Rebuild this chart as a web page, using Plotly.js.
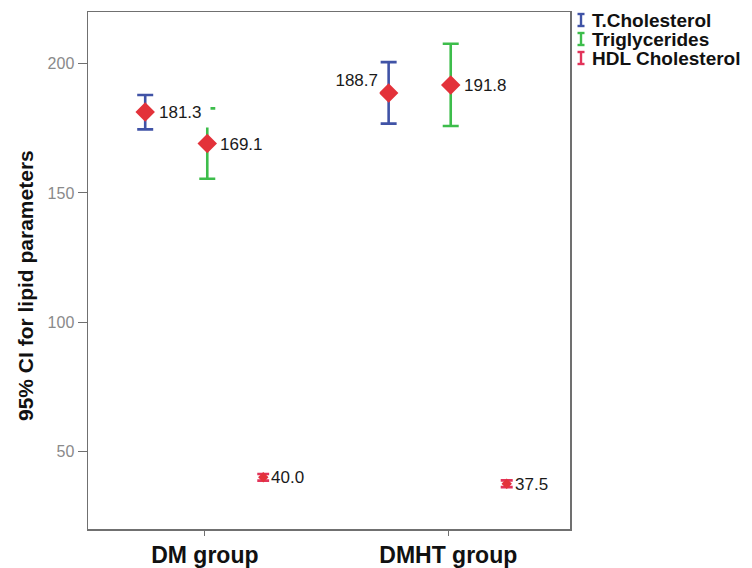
<!DOCTYPE html>
<html>
<head>
<meta charset="utf-8">
<script src="https://cdn.plot.ly/plotly-3.0.1.min.js"></script>
<style>
  html, body { margin: 0; padding: 0; background: #ffffff; }
  #chart { width: 752px; height: 568px; }
</style>
</head>
<body>
<div id="chart"></div>
<script>
// ---- data ----
const groups = ['DM group', 'DMHT group'];
const seriesNames = ['T.Cholesterol', 'Triglycerides', 'HDL Cholesterol'];
const tcMean  = [181.3, 188.7];
const tcLow   = [174.6, 176.8];
const tcHigh  = [187.9, 200.6];
const tgMean  = [169.1, 191.8];
const tgLow   = [155.5, 175.9];
const tgHigh  = [182.7, 207.7];
const hdlMean = [40.0, 37.5];
const hdlLow  = [38.7, 36.2];
const hdlHigh = [41.3, 38.8];
const yTicks  = [50, 100, 150, 200];

// ---- styling ----
const FONT = 'Arial, "Liberation Sans", sans-serif';
const seriesColors = ['#4053a6', '#3dbd4b', '#e2345a'];
const markerColor = '#e3323a';
const offsets = [-0.245, 0.01, 0.24];
const means = [tcMean, tgMean, hdlMean];
const lows = [tcLow, tgLow, hdlLow];
const highs = [tcHigh, tgHigh, hdlHigh];
const markerSizes = [15, 15, 8];
const capWidths = [8, 8, 6];
const labelShift = [12, 11, 6];

const traces = seriesNames.map((name, s) => ({
  type: 'scatter',
  mode: 'markers',
  name: name,
  x: groups.map((g, i) => i + offsets[s]),
  y: means[s],
  marker: { symbol: 'diamond', size: markerSizes[s], color: markerColor, line: { width: 0 } },
  error_y: {
    type: 'data', symmetric: false,
    array: means[s].map((m, i) => highs[s][i] - m),
    arrayminus: means[s].map((m, i) => m - lows[s][i]),
    color: seriesColors[s], thickness: 2.6, width: capWidths[s]
  },
  showlegend: false,
  hoverinfo: 'skip'
}));

// value labels (white label boxes, as in the original)
const labelFont = { family: FONT, size: 17, color: '#1a1a1a' };
const annotations = [];
seriesNames.forEach((name, s) => {
  means[s].forEach((m, i) => {
    const leftSide = (s === 0 && i === 1);
    annotations.push({
      x: i + offsets[s], y: m, xref: 'x', yref: 'y',
      text: m.toFixed(1),
      showarrow: false,
      xanchor: leftSide ? 'right' : 'left',
      yanchor: 'middle',
      align: leftSide ? 'right' : 'left',
      width: 50, height: 28,
      xshift: leftSide ? -9 : labelShift[s],
      yshift: leftSide ? 13 : 0,
      font: labelFont,
      bgcolor: '#ffffff',
      borderpad: 1
    });
  });
});

// y axis title
annotations.push({
  xref: 'paper', yref: 'paper', x: 0, y: 0.47,
  xshift: -63, xanchor: 'center', yanchor: 'middle',
  textangle: -90, showarrow: false,
  text: '95% CI for lipid parameters',
  font: { family: FONT, size: 21, color: '#111', weight: 'bold' }
});

// custom legend (error-bar "I" icons)
const shapes = [];
seriesNames.forEach((name, s) => {
  const cy = -(8 + 19 * s); // pixels from top of plot area
  const cx = 11;            // pixels right of plot area
  const common = { type: 'line', xref: 'paper', yref: 'paper', xsizemode: 'pixel', ysizemode: 'pixel',
                   xanchor: 1, yanchor: 1, line: { color: seriesColors[s], width: 2.4 } };
  shapes.push(Object.assign({}, common, { x0: cx, x1: cx, y0: cy - 6, y1: cy + 6 }));
  shapes.push(Object.assign({}, common, { x0: cx - 3.5, x1: cx + 3.5, y0: cy - 6, y1: cy - 6 }));
  shapes.push(Object.assign({}, common, { x0: cx - 3.5, x1: cx + 3.5, y0: cy + 6, y1: cy + 6 }));
  annotations.push({
    xref: 'paper', yref: 'paper', x: 1, y: 1,
    xanchor: 'left', yanchor: 'middle',
    xshift: 20, yshift: cy,
    text: name, showarrow: false,
    font: { family: FONT, size: 19, color: '#111', weight: 'bold' }
  });
});

const layout = {
  width: 752, height: 568,
  margin: { l: 88, r: 182, t: 12, b: 39 },
  paper_bgcolor: '#ffffff', plot_bgcolor: '#ffffff',
  showlegend: false,
  xaxis: {
    range: [-0.48, 1.5],
    tickmode: 'array', tickvals: groups.map((g, i) => i), ticktext: groups,
    showgrid: false, zeroline: false,
    showline: true, linecolor: '#707070', linewidth: 1.5, mirror: true,
    ticks: 'outside', ticklen: 5, tickcolor: '#707070',
    tickfont: { family: FONT, size: 23, color: '#111', weight: 'bold' }
  },
  yaxis: {
    range: [20, 220],
    tickmode: 'array', tickvals: yTicks, ticktext: yTicks.map(String),
    showgrid: false, zeroline: false,
    showline: true, linecolor: '#707070', linewidth: 1.5, mirror: true,
    ticks: 'outside', ticklen: 9, tickcolor: '#707070',
    tickfont: { family: FONT, size: 16, color: '#8a8a8a' }
  },
  shapes: shapes,
  annotations: annotations
};

Plotly.newPlot('chart', traces, layout, { staticPlot: true, displayModeBar: false });
</script>
</body>
</html>
